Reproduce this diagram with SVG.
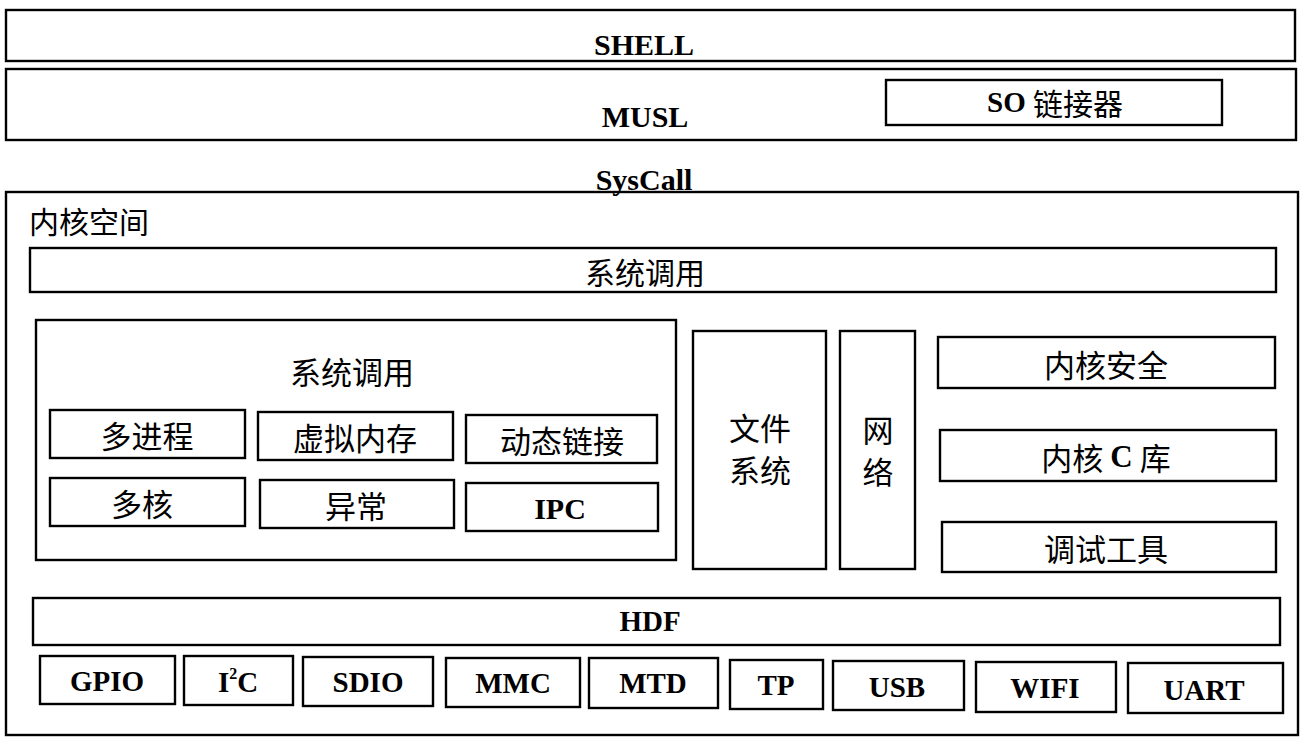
<svg xmlns="http://www.w3.org/2000/svg" width="1304" height="747" viewBox="0 0 1304 747">
<style>
rect{fill:none;stroke:#000;stroke-width:2.4}
text{fill:#000;text-anchor:middle;dominant-baseline:central}
.en{font-family:'Liberation Serif','DejaVu Serif',serif;font-weight:bold}
.zh{font-family:'Noto Sans CJK SC','Noto Sans',sans-serif}
.cjk{font-family:'Noto Sans CJK SC',sans-serif;font-weight:normal}
.ser{font-family:'Liberation Serif','DejaVu Serif',serif;font-weight:bold}
</style>
<rect x="0" y="0" width="1304" height="747" style="fill:#fff;stroke:none"/>
<g id="shell"><rect x="6" y="10" width="1289" height="51"/><text class="en" x="644" y="44" font-size="30">SHELL</text></g>
<g id="musl"><rect x="6" y="69" width="1290" height="71"/><text class="en" x="645" y="116" font-size="30">MUSL</text></g>
<g id="so"><rect x="886" y="80" width="336" height="45"/><text class="en" x="1055" y="102" font-size="29">SO <tspan class="cjk" font-size="30">链接器</tspan></text></g>
<text class="en" x="644" y="179" font-size="30">SysCall</text>
<g id="kernel"><rect x="6" y="192" width="1292" height="543"/><text class="zh" x="29" y="220" font-size="30" style="text-anchor:start">内核空间</text></g>
<g id="syscall-bar"><rect x="30" y="248" width="1246" height="44"/><text class="zh" x="645" y="271" font-size="30">系统调用</text></g>
<g id="syscall-box"><rect x="36" y="320" width="640" height="240"/><text class="zh" x="352" y="370" font-size="31">系统调用</text></g>
<g id="n1"><rect x="50" y="410" width="195" height="48"/><text class="zh" x="147" y="434" font-size="31">多进程</text></g>
<g id="n2"><rect x="258" y="412" width="195" height="48"/><text class="zh" x="355" y="436" font-size="31">虚拟内存</text></g>
<g id="n3"><rect x="466" y="415" width="191" height="48"/><text class="zh" x="562" y="439" font-size="31">动态链接</text></g>
<g id="n4"><rect x="50" y="478" width="195" height="48"/><text class="zh" x="142" y="502" font-size="31">多核</text></g>
<g id="n5"><rect x="260" y="480" width="194" height="48"/><text class="zh" x="356" y="504" font-size="31">异常</text></g>
<g id="n6"><rect x="466" y="483" width="192" height="48"/><text class="en" x="560" y="508" font-size="30">IPC</text></g>
<g id="fs"><rect x="693" y="331" width="133" height="238"/><text class="zh" x="760" y="426" font-size="31">文件</text><text class="zh" x="760" y="468" font-size="31">系统</text></g>
<g id="net"><rect x="840" y="331" width="75" height="238"/><text class="zh" x="878" y="428" font-size="31">网</text><text class="zh" x="878" y="470" font-size="31">络</text></g>
<g id="sec"><rect x="938" y="337" width="337" height="51"/><text class="zh" x="1106" y="363" font-size="31">内核安全</text></g>
<g id="clib"><rect x="940" y="430" width="336" height="51"/><text class="zh" x="1106" y="456" font-size="31">内核 <tspan class="ser">C</tspan> 库</text></g>
<g id="dbg"><rect x="942" y="522" width="334" height="50"/><text class="zh" x="1106" y="547" font-size="31">调试工具</text></g>
<g id="hdf"><rect x="33" y="598" width="1247" height="47"/><text class="en" x="650" y="621" font-size="29">HDF</text></g>
<g id="gpio"><rect x="40" y="656" width="135" height="48"/><text class="en" x="107" y="681" font-size="29">GPIO</text></g>
<g id="i2c"><rect x="184" y="656" width="109" height="49"/><text class="en" x="238" y="682" font-size="29">I<tspan font-size="16" dy="-9">2</tspan><tspan dy="9">C</tspan></text></g>
<g id="sdio"><rect x="303" y="657" width="130" height="49"/><text class="en" x="368" y="682" font-size="29">SDIO</text></g>
<g id="mmc"><rect x="446" y="658" width="134" height="49"/><text class="en" x="513" y="683" font-size="29">MMC</text></g>
<g id="mtd"><rect x="589" y="658" width="129" height="50"/><text class="en" x="653" y="683" font-size="29">MTD</text></g>
<g id="tp"><rect x="730" y="660" width="93" height="49"/><text class="en" x="776" y="685" font-size="29">TP</text></g>
<g id="usb"><rect x="833" y="661" width="131" height="49"/><text class="en" x="897" y="687" font-size="29">USB</text></g>
<g id="wifi"><rect x="976" y="662" width="140" height="50"/><text class="en" x="1045" y="688" font-size="29">WIFI</text></g>
<g id="uart"><rect x="1128" y="663" width="155" height="50"/><text class="en" x="1204" y="690" font-size="29">UART</text></g>
<g id="connectors"/>
</svg>
